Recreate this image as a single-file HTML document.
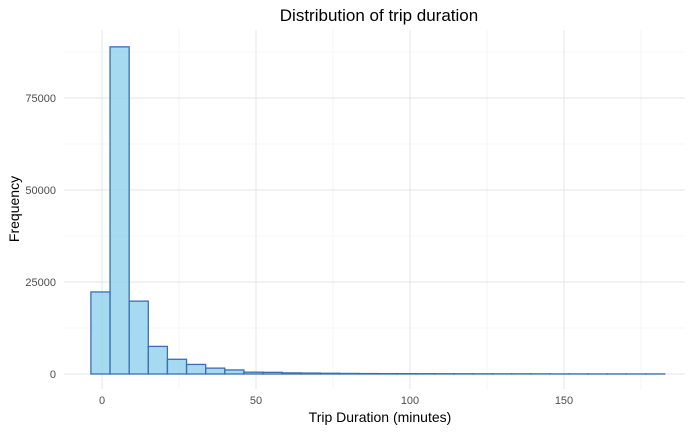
<!DOCTYPE html>
<html><head><meta charset="utf-8"><style>
body{margin:0;background:#fff;font-family:"Liberation Sans",Arial,sans-serif}
svg text{font-family:"Liberation Sans",Arial,sans-serif}
</style></head><body>
<svg id="c" width="700" height="432">
<text x="379" y="21" font-size="17" text-anchor="middle" fill="#000">Distribution of trip duration</text>
<text x="0" y="0" transform="translate(19,209) rotate(-90)" font-size="14" text-anchor="middle" fill="#000">Frequency</text>
<text x="380" y="422" font-size="14" text-anchor="middle" fill="#000">Trip Duration (minutes)</text>
<g id="grid"></g><g id="bars"></g><g id="ticks"></g>
</svg>
<script>
const binStart = -3.6;
const binWidth = 6.21;
const counts = [22300, 88900, 19800, 7500, 4000, 2600, 1600, 1100, 500, 450, 300, 250, 200, 150, 120, 100, 90, 80, 70, 60, 50, 45, 40, 35, 30, 30, 25, 25, 20, 20];
const yTicks = [0, 25000, 50000, 75000];
const yMinor = [12500, 37500, 62500, 87500];
const xTicks = [0, 50, 100, 150];
const xMinor = [25, 75, 125, 175];
const NS = "http://www.w3.org/2000/svg";
const X0 = 64, X1 = 685, Y0 = 30, Y1 = 389;
function xs(v){ return 102 + v * (256 - 102) / 50; }
function ys(v){ return 374 - v * (374 - 98) / 75000; }
function mk(tag, attrs, parent){ const e=document.createElementNS(NS,tag); for(const k in attrs) e.setAttribute(k,attrs[k]); document.getElementById(parent).appendChild(e); return e; }
yMinor.forEach(v=>{ const l=mk('line',{x1:X0,x2:X1,y1:ys(v),y2:ys(v),stroke:'#f0f0f0','stroke-width':0.6},'grid');

 });
xMinor.forEach(v=>{ const l=mk('line',{x1:xs(v),x2:xs(v),y1:Y0,y2:Y1,stroke:'#f0f0f0','stroke-width':0.6},'grid');

 });
yTicks.forEach(v=>{ const l=mk('line',{x1:X0,x2:X1,y1:ys(v),y2:ys(v),stroke:'#e6e6e6','stroke-width':1.1},'grid');


const t=mk('text',{x:56,y:ys(v)+4,'font-size':11,'text-anchor':'end',fill:'#4d4d4d'},'ticks'); t.textContent=v;

 });
xTicks.forEach(v=>{ const l=mk('line',{x1:xs(v),x2:xs(v),y1:Y0,y2:Y1,stroke:'#e6e6e6','stroke-width':1.1},'grid');


const t=mk('text',{x:xs(v),y:404,'font-size':11,'text-anchor':'middle',fill:'#4d4d4d'},'ticks'); t.textContent=v;

 });
counts.forEach((c,i)=>{ const a=xs(binStart+i*binWidth), b=xs(binStart+(i+1)*binWidth);
const r=mk('rect',{x:a,y:ys(c),width:b-a,height:ys(0)-ys(c),fill:'rgba(135,206,235,0.75)',stroke:'#3a6fb0','stroke-width':1.3},'bars');

 });
</script>
</body></html>
